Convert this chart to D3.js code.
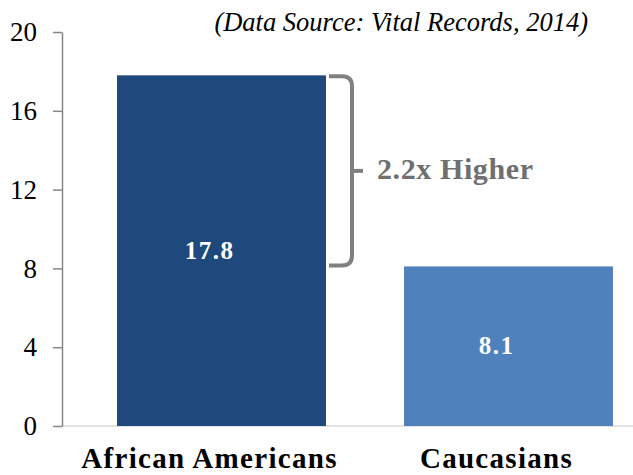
<!DOCTYPE html>
<html>
<head>
<meta charset="utf-8">
<script src="https://cdn.jsdelivr.net/npm/d3@7"></script>
<style>
  body { margin: 0; background: #fff; }
  svg text { font-family: "Liberation Serif", "Times New Roman", "DejaVu Serif", serif; }
</style>
</head>
<body>
<svg width="633" height="475"></svg>
<script>
var categories = ['African Americans', 'Caucasians'];
var values = [17.8, 8.1];
var barColors = ['#1f497d', '#4f81bd'];
var yTicks = [0, 4, 8, 12, 16, 20];

var svg = d3.select('svg');

var scaleY = d3.scaleLinear().domain([0, 20]).range([426, 32]);
var scaleX = d3.scaleBand().domain(categories).range([78, 652])
    .paddingInner(0.272).paddingOuter(0.136);

// labels sit a little left of the bar centres in the original
var labelShift = -12;

// baseline
svg.append('line')
    .attr('x1', 62).attr('x2', 633)
    .attr('y1', scaleY(0)).attr('y2', scaleY(0))
    .attr('stroke', '#d9d9d9')
    .attr('stroke-width', 1.5);

// bars
svg.selectAll('rect.bar')
    .data(values)
    .enter()
    .append('rect')
    .attr('class', 'bar')
    .attr('x', function(d, i){ return scaleX(categories[i]); })
    .attr('y', function(d){ return scaleY(d); })
    .attr('width', scaleX.bandwidth())
    .attr('height', function(d){ return scaleY(0) - scaleY(d); })
    .attr('fill', function(d, i){ return barColors[i]; });

// value labels
svg.selectAll('text.val')
    .data(values)
    .enter()
    .append('text')
    .attr('class', 'val')
    .attr('x', function(d, i){ return scaleX(categories[i]) + scaleX.bandwidth() / 2 + labelShift; })
    .attr('y', function(d){ return (scaleY(d) + scaleY(0)) / 2 + 8; })
    .attr('text-anchor', 'middle')
    .attr('font-size', 25)
    .attr('letter-spacing', 1.5)
    .attr('font-weight', 'bold')
    .attr('fill', '#fff')
    .text(function(d){ return d.toFixed(1); });

// y axis
var yAxis = svg.append('g')
    .attr('transform', 'translate(62,0)')
    .call(d3.axisLeft(scaleY).tickValues(yTicks).tickSize(9).tickPadding(16).tickSizeOuter(0));
yAxis.attr('font-family', null);
yAxis.select('.domain').attr('stroke', '#868686').attr('stroke-width', 1.5);
yAxis.selectAll('.tick line').attr('stroke', '#868686').attr('stroke-width', 1.5);
yAxis.selectAll('.tick text')
    .attr('font-size', 27)
    .attr('fill', '#000');

// category labels
svg.selectAll('text.cat')
    .data(categories)
    .enter()
    .append('text')
    .attr('class', 'cat')
    .attr('x', function(d){ return scaleX(d) + scaleX.bandwidth() / 2 + labelShift; })
    .attr('y', 468)
    .attr('text-anchor', 'middle')
    .attr('font-size', 29)
    .attr('letter-spacing', 1.3)
    .attr('font-weight', 'bold')
    .attr('fill', '#000')
    .text(function(d){ return d; });

// source note
svg.append('text')
    .attr('x', 588)
    .attr('y', 31)
    .attr('text-anchor', 'end')
    .attr('font-size', 26.5)
    .attr('font-style', 'italic')
    .attr('fill', '#000')
    .text('(Data Source: Vital Records, 2014)');

// bracket between the two bar tops
var yTop = scaleY(values[0]);
var yBot = scaleY(values[1]);
var yMid = (yTop + yBot) / 2;
var bx = 352;
svg.append('path')
    .attr('d', 'M329,' + (yTop + 1) + ' L342,' + (yTop + 1) + ' Q' + bx + ',' + (yTop + 1) + ' ' + bx + ',' + (yTop + 11) +
        ' L' + bx + ',' + (yBot - 11) + ' Q' + bx + ',' + (yBot - 1) + ' 342,' + (yBot - 1) + ' L329,' + (yBot - 1))
    .attr('fill', 'none')
    .attr('stroke', '#808080')
    .attr('stroke-width', 4);
svg.append('line')
    .attr('x1', bx).attr('x2', 363)
    .attr('y1', yMid).attr('y2', yMid)
    .attr('stroke', '#808080')
    .attr('stroke-width', 4);

svg.append('text')
    .attr('x', 377)
    .attr('y', yMid + 8)
    .attr('font-size', 30)
    .attr('letter-spacing', 0.6)
    .attr('font-weight', 'bold')
    .attr('fill', '#6f6f6f')
    .text('2.2x Higher');
</script>
</body>
</html>
